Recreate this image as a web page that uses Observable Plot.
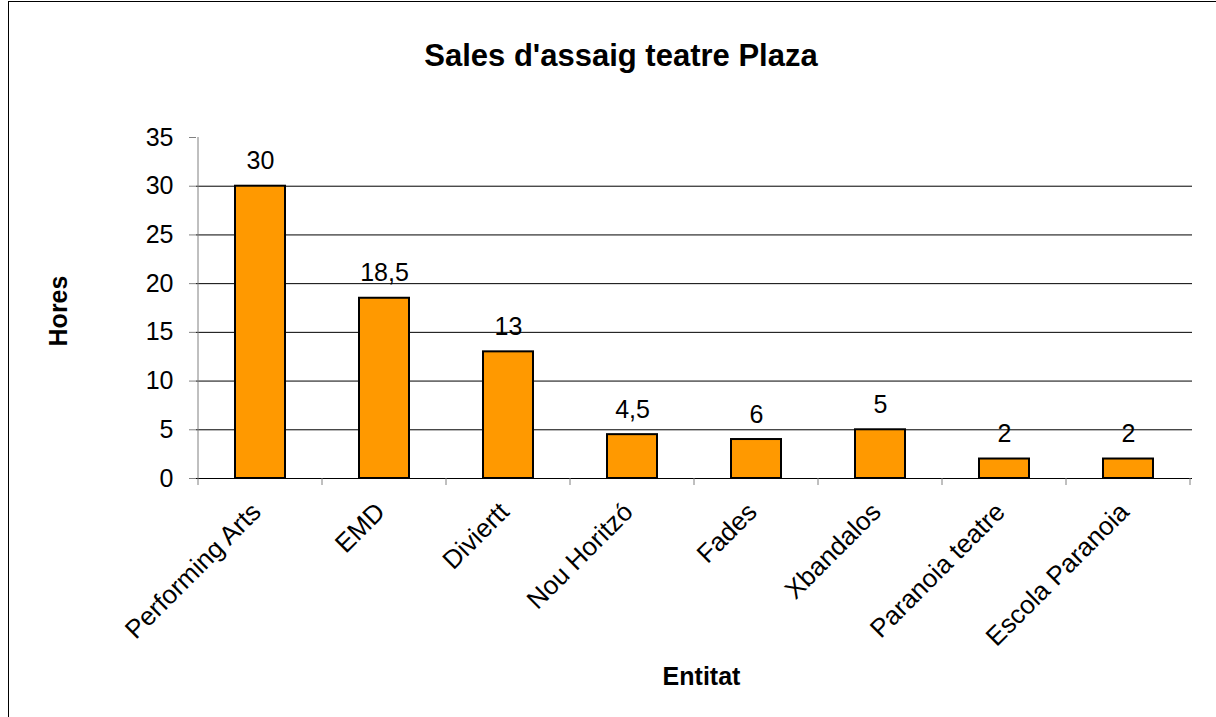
<!DOCTYPE html>
<html>
<head>
<meta charset="utf-8">
<script src="https://cdn.jsdelivr.net/npm/d3@7"></script>
<script src="https://cdn.jsdelivr.net/npm/@observablehq/plot@0.6"></script>
<style>
  html, body { margin: 0; padding: 0; background: #fff; width: 1216px; height: 717px; overflow: hidden; }
  body { font-family: "Liberation Sans", Arial, sans-serif; position: relative; }
  #frame { position: absolute; left: 8px; top: 1px; width: 1230px; height: 740px; border-left: 1px solid #000; border-top: 1px solid #000; }
  #title { position: absolute; left: 0; top: 38px; width: 1242px; text-align: center; font-weight: bold; font-size: 31px; line-height: normal; color: #000; white-space: nowrap; }
  #chart { position: absolute; left: 0; top: 112px; }
</style>
</head>
<body>
<div id="frame"></div>
<div id="title">Sales d'assaig teatre Plaza</div>
<div id="chart"></div>
<script>
const categories = ["Performing Arts", "EMD", "Diviertt", "Nou Horitzó", "Fades", "Xbandalos", "Paranoia teatre", "Escola Paranoia"];
const hours = [30, 18.5, 13, 4.5, 4, 5, 2, 2];
const valueLabels = ["30", "18,5", "13", "4,5", "6", "5", "2", "2"];
const yTicks = [0, 5, 10, 15, 20, 25, 30, 35];
const gridValues = [5, 10, 15, 20, 25, 30];

const data = categories.map((c, i) => ({cat: c, v: hours[i], label: valueLabels[i]}));

const W = 1216, H = 605;
const FS = 25;
const chart = Plot.plot({
  width: W, height: H,
  marginLeft: 196, marginRight: 24, marginTop: 25, marginBottom: 239,
  style: {background: "transparent", fontFamily: "'Liberation Sans', Arial, sans-serif", fontSize: FS + "px", color: "#000", overflow: "visible", maxWidth: "none"},
  x: {type: "band", domain: categories, padding: 0, axis: null},
  y: {domain: [0, 35], axis: null},
  marks: [
    Plot.ruleY(gridValues, {stroke: "#000", strokeWidth: 1}),
    Plot.ruleY([0], {stroke: "#000", strokeWidth: 1}),
    Plot.axisY(yTicks, {tickSize: 7, tickPadding: 16, stroke: "#808080", fontSize: FS, fill: "#000", label: null, tickFormat: d => String(d)}),
    Plot.barY(data, {x: "cat", y: "v", fill: "#FF9900", stroke: "#000", strokeWidth: 2, insetLeft: 37, insetRight: 37}),
    Plot.text(data, {x: "cat", y: "v", text: "label", dy: -25, fontSize: FS, fill: "#000"}),
    Plot.text(data, {x: "cat", text: "cat", frameAnchor: "bottom", dy: 35, dx: 2, rotate: -45, textAnchor: "end", fontSize: 26, fill: "#000"}),
    Plot.text(["Hores"], {frameAnchor: "left", textAnchor: "middle", lineAnchor: "middle", dx: -138, dy: 3, rotate: -90, fontWeight: "bold", fontSize: FS, fill: "#000"}),
    Plot.text(["Entitat"], {frameAnchor: "bottom", textAnchor: "middle", lineAnchor: "middle", dy: 198, dx: 7, fontWeight: "bold", fontSize: FS, fill: "#000"})
  ]
});
document.getElementById("chart").appendChild(chart);

// Axis line and band-boundary ticks drawn from Plot's own scales
const sx = chart.scale("x"), sy = chart.scale("y");
const svg = d3.select(chart);
const bw = sx.bandwidth;
const edges = categories.map(c => sx.apply(c)).concat([sx.apply(categories[categories.length - 1]) + bw]);
const y0 = sy.apply(0), yTop = sy.apply(35);
const g = svg.append("g").attr("stroke", "#808080").attr("stroke-width", 1);
g.append("line").attr("x1", edges[0]).attr("x2", edges[0]).attr("y1", yTop).attr("y2", y0);
edges.forEach(x => g.append("line").attr("x1", x).attr("x2", x).attr("y1", y0).attr("y2", y0 + 7));
</script>
</body>
</html>
